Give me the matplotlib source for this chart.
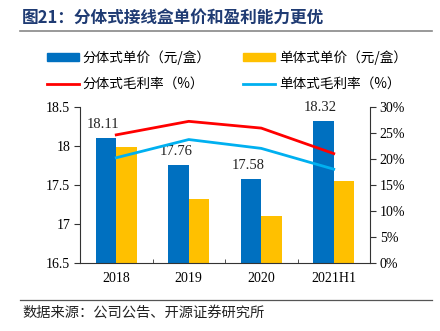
import matplotlib
matplotlib.use("Agg")
import matplotlib.pyplot as plt
import numpy as np
from matplotlib.patches import Patch
from matplotlib.lines import Line2D

plt.rcParams['font.family'] = ['Noto Sans CJK SC', 'DejaVu Sans']

categories = ["2018", "2019", "2020", "2021H1"]
split_price = [18.11, 17.76, 17.58, 18.32]
single_price = [17.99, 17.32, 17.11, 17.56]
split_margin = [24.7, 27.3, 26.0, 21.1]
single_margin = [20.3, 23.8, 22.1, 18.1]
left_ticks = [16.5, 17, 17.5, 18, 18.5]
left_tick_labels = ["16.5", "17", "17.5", "18", "18.5"]
right_ticks = [0, 5, 10, 15, 20, 25, 30]
right_tick_labels = ["0%", "5%", "10%", "15%", "20%", "25%", "30%"]

c_blue = "#0070C0"
c_yellow = "#FFC000"
c_red = "#FF0000"
c_lblue = "#00B0F0"
serif = "Liberation Serif"

fig = plt.figure(figsize=(4.4, 3.31), dpi=100)
ax = fig.add_axes([80/440, 1-263.3/331, 290/440, (263.3-107.3)/331])
ax2 = ax.twinx()

x = np.arange(len(categories))
w = 0.283
ax.bar(x - w/2, split_price, width=w, color=c_blue, zorder=2)
ax.bar(x + w/2, single_price, width=w, color=c_yellow, zorder=2)
for xi, v in zip(x, split_price):
    ax.annotate(f"{v:.2f}", (xi - w/2, v), xytext=(-2, 5), textcoords="offset points",
                ha="center", va="bottom", fontsize=10.5, family=serif, color="#222222")

ax.set_ylim(16.5, 18.5)
ax.set_xlim(-0.5, len(categories) - 0.5)
ax.set_yticks(left_ticks)
ax.set_yticklabels(left_tick_labels, family=serif, fontsize=10)
ax.set_xticks(x)
ax.set_xticklabels(categories, family=serif, fontsize=10)
ax.tick_params(axis="x", length=0, pad=6)
ax.set_xticks(np.arange(len(categories) + 1) - 0.5, minor=True)
ax.tick_params(axis="x", which="minor", direction="in", length=3, color="#333333")
ax.tick_params(axis="y", direction="out", length=4, color="#333333", pad=3)

ax2.plot(x, split_margin, color=c_red, lw=2.0, zorder=3)
ax2.plot(x, single_margin, color=c_lblue, lw=2.0, zorder=3)
ax2.set_ylim(0, 30)
ax2.set_yticks(right_ticks)
ax2.set_yticklabels(right_tick_labels, family=serif, fontsize=10)
ax2.tick_params(axis="y", direction="out", length=4, color="#333333", pad=3)

for a in (ax, ax2):
    a.spines["top"].set_visible(False)
    for s in ("left", "right", "bottom"):
        a.spines[s].set_color("#333333")
        a.spines[s].set_linewidth(0.8)
ax.spines["right"].set_visible(False)
ax2.spines["left"].set_visible(False)
ax2.spines["bottom"].set_visible(False)

handles = [
    Patch(color=c_blue, label="分体式单价（元/盒）"),
    Patch(color=c_yellow, label="单体式单价（元/盒）"),
    Line2D([], [], color=c_red, lw=2, label="分体式毛利率（%）"),
    Line2D([], [], color=c_lblue, lw=2, label="单体式毛利率（%）"),
]
order = [0, 2, 1, 3]
fig.legend([handles[i] for i in order], [handles[i].get_label() for i in order],
           ncol=2, loc="upper left", bbox_to_anchor=(46.7/440, 1-50/331),
           frameon=False, fontsize=9.8, handlelength=2.35, handleheight=0.5,
           handletextpad=0.3, columnspacing=2.35, labelspacing=0.9, borderpad=0,
           borderaxespad=0)

fig.text(22/440, 1-18/331, "图21：分体式接线盒单价和盈利能力更优", fontsize=12,
         fontweight="bold", color="#1F3B73", va="center", ha="left")
fig.add_artist(Line2D([20/440, 432/440], [1-31/331, 1-31/331], color="#888888", lw=1.2,
                      transform=fig.transFigure))
fig.add_artist(Line2D([20/440, 432/440], [1-300/331, 1-300/331], color="#555555", lw=0.9,
                      transform=fig.transFigure))
fig.text(22/440, 1-313/331, "数据来源：公司公告、开源证券研究所", fontsize=10.3,
         color="#222222", va="center", ha="left")

fig.savefig("out.png", dpi=100)
